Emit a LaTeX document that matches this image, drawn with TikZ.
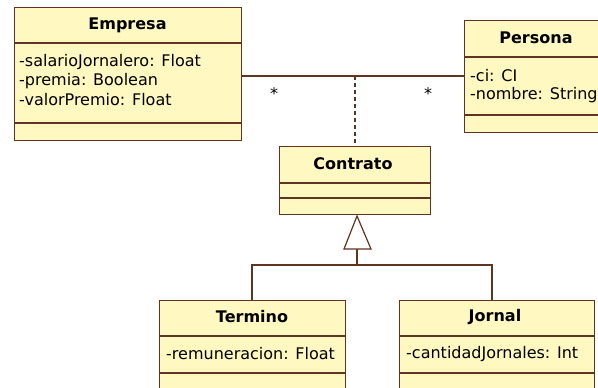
\documentclass[tikz,border=0pt]{standalone}
\usepackage{fontspec}
\setmainfont{DejaVu Sans}
\begin{document}
\begin{tikzpicture}[x=1pt,y=-1pt,
  cls/.style={draw=umlborder,fill=umlfill,line width=1.4pt,anchor=north west,inner sep=0pt},
  sepl/.style={draw=umlborder,line width=1.4pt},
  conn/.style={draw=umlborder,line width=1.2pt},
  ttl/.style={font=\fontsize{16}{18}\selectfont\bfseries,inner sep=0pt},
  attr/.style={font=\fontsize{16}{18}\selectfont,anchor=west,inner sep=0pt},
  mult/.style={font=\fontsize{16}{18}\selectfont,inner sep=0pt}]
\definecolor{umlfill}{HTML}{FFF8C0}
\definecolor{umlborder}{HTML}{603420}
\clip (0,0) rectangle (598,388);
\fill[white] (0,0) rectangle (598,388);
% Empresa
\node[cls,minimum width=227pt,minimum height=133pt] (emp) at (14,7) {};
\draw[sepl] (14,43) -- (241,43) (14,123) -- (241,123);
\node[ttl] (empt) at (127.5,25) {Empresa};
\node[attr] (ea1) at (19,62) {-salarioJornalero: Float};
\node[attr] (ea2) at (19,81) {-premia: Boolean};
\node[attr] (ea3) at (19,100) {-valorPremio: Float};
% Persona
\node[cls,minimum width=160pt,minimum height=112pt] (per) at (464,20) {};
\draw[sepl] (464,57) -- (624,57) (464,115) -- (624,115);
\node[ttl] (pert) at (536,38) {Persona};
\node[attr] (pa1) at (470,76) {-ci: CI};
\node[attr] (pa2) at (470,95) {-nombre: String};
% Contrato
\node[cls,minimum width=151pt,minimum height=68pt] (con) at (279,146) {};
\draw[sepl] (279,183) -- (430,183) (279,198) -- (430,198);
\node[ttl] (cont) at (353,164) {Contrato};
% Termino
\node[cls,minimum width=186pt,minimum height=110pt] (ter) at (159,300) {};
\draw[sepl] (159,336) -- (345,336) (159,373) -- (345,373);
\node[ttl] (tert) at (252,317) {Termino};
\node[attr] (ta1) at (166,354) {-remuneracion: Float};
% Jornal
\node[cls,minimum width=195pt,minimum height=110pt] (jor) at (399,300) {};
\draw[sepl] (399,336) -- (594,336) (399,373) -- (594,373);
\node[ttl] (jort) at (495,317) {Jornal};
\node[attr] (ja1) at (406,354) {-cantidadJornales: Int};
% association
\coordinate (j) at (355,76);
\draw[conn] (emp.east |- j) -- (j) -- (per.west |- j);
\draw[conn,dash pattern=on 4pt off 3pt] (j) -- (j |- con.north);
\node[mult] (m1) at (274,94) {*};
\node[mult] (m2) at (428,94) {*};
% generalization
\coordinate (apex) at (357,216);
\coordinate (base) at (357,249);
\coordinate (bar) at (357,265);
\draw[conn] (base) -- (bar);
\draw[conn] (ter.north -| 252,0) -- (252,265) -- (492,265) -- (492,300);
\draw[conn,fill=white] (apex) -- (344,249) -- (371,249) -- cycle;
\end{tikzpicture}
\end{document}
